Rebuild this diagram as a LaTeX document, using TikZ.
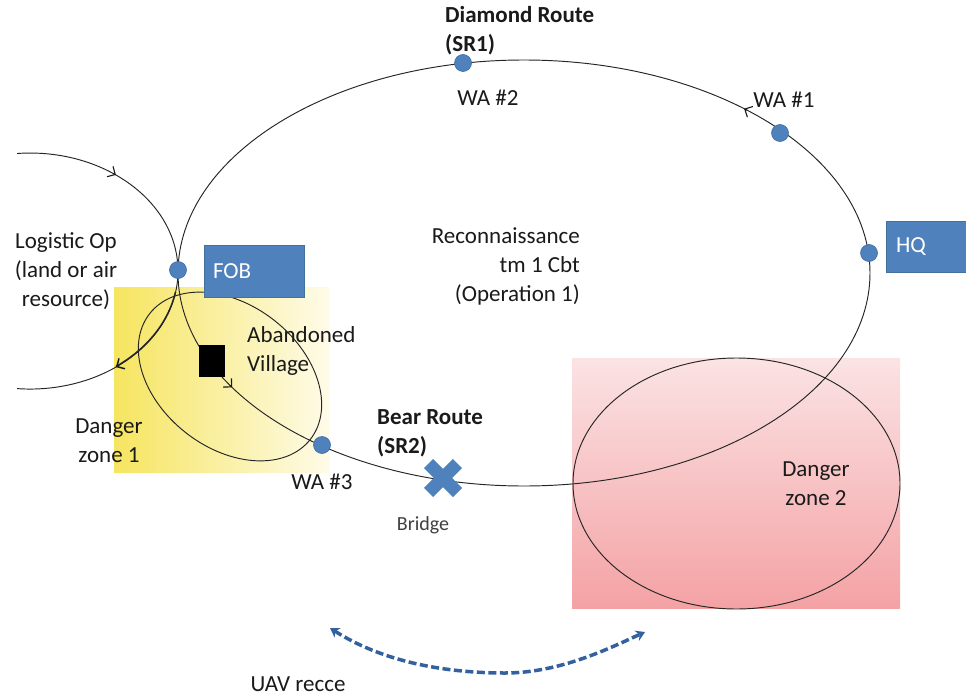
\documentclass[tikz,border=0pt]{standalone}
\usepackage{fontspec}
\setmainfont{Carlito}
\usetikzlibrary{arrows.meta}
\definecolor{boxblue}{HTML}{4F81BD}
\definecolor{boxedge}{HTML}{41719C}
\definecolor{dotedge}{HTML}{3C6DA6}
\definecolor{textblack}{HTML}{1A1A1A}
\definecolor{bridgegray}{HTML}{404040}
\definecolor{yelL}{HTML}{F6E560}
\definecolor{yelR}{HTML}{FEFBE8}
\definecolor{pinkT}{HTML}{FBE3E4}
\definecolor{pinkB}{HTML}{F4A2A4}
\definecolor{uavblue}{HTML}{33609E}
\begin{document}
\begin{tikzpicture}[x=1pt,y=-1pt,
  route/.style={draw=black!85, line width=0.95pt},
  tipmark/.style={draw=black!90, line width=1.1pt, -{Straight Barb[length=6pt,width=12pt]}},
  wpdot/.style={circle, fill=boxblue, draw=dotedge, line width=0.6pt, minimum size=17pt, inner sep=0pt},
  txt/.style={font=\fontsize{23}{29}\selectfont, text=textblack, inner sep=0pt},
  boldtxt/.style={font=\fontsize{23}{29}\selectfont\bfseries, text=textblack, inner sep=0pt},
  bluebox/.style={fill=boxblue, draw=boxedge, line width=0.6pt, inner ysep=0pt, text=white, align=left, font=\fontsize{23}{29}\selectfont},
  uav/.style={draw=uavblue, line width=3.5pt, dash pattern=on 8pt off 3.5pt, {Stealth[length=9pt,width=11pt]}-{Stealth[length=9pt,width=11pt]}}
]
\useasboundingbox (0,0) rectangle (966,698);
\fill[white] (0,0) rectangle (966,698);

% danger zones
\shade[left color=yelL, right color=yelR] (114,287) rectangle (329,472);
\shade[top color=pinkT, bottom color=pinkB] (572,358) rectangle (900,608);
\draw[route, rotate around={-38:(230,376.5)}] (230,376.5) ellipse [x radius=102pt, y radius=71.5pt];
\draw[route] (736.5,483.5) ellipse [x radius=163.5pt, y radius=125.5pt];

% main loop (Diamond / Bear routes)
\draw[route] (524,273) ellipse [x radius=346pt, y radius=213pt];
% logistic op curve
\draw[route] (17.1,153.5) arc[start angle=95, end angle=-95, x radius=148pt, y radius=118pt];
\draw[route, line width=1.5pt] (175.5,292) arc[start angle=-10.5, end angle=-54.5, x radius=148pt, y radius=118pt];

% direction marks
\draw[tipmark] (746.8,110.1) -- (744.1,108.7);
\draw[tipmark] (113.3,173.4) -- (115.9,174.9);
\draw[tipmark, line width=1.5pt] (118.5,365.6) -- (115.9,367.1);

% abandoned village
\fill[black] (199,345) rectangle (225,377);
\draw[tipmark] (230.0,385.3) -- (232.2,387.4);

% boxes
\node[bluebox, text width=82pt, inner xsep=9pt, minimum height=52pt] (fob) at (254,271) {FOB};
\node[bluebox, text width=60pt, inner xsep=10pt, minimum height=51pt] (hq) at (926,247) {HQ};

% waypoints
\node[wpdot] (wa2) at (463,63) {};
\node[wpdot] (wa1) at (780,133) {};
\node[wpdot] (hqdot) at (869,253) {};
\node[wpdot] (fobdot) at (178,270) {};
\node[wpdot] (wa3) at (322,445) {};

% bridge
\fill[boxblue, rotate around={45:(443,478)}] (422.5,471.5) rectangle (463.5,484.5);
\fill[boxblue, rotate around={-45:(443,478)}] (422.5,471.5) rectangle (463.5,484.5);

% labels
\node[boldtxt, anchor=west, align=left] (diamond) at (445,30.5) {Diamond Route\\(SR1)};
\node[txt] (wa2t) at (488,98) {WA \#2};
\node[txt] (wa1t) at (784,100) {WA \#1};
\node[txt, align=center] (logi) at (66,271) {Logistic Op\\(land or air\\resource)};
\node[txt, anchor=east, align=right] (recon) at (580,266) {Reconnaissance\\tm 1 Cbt\\(Operation 1)};
\node[txt, anchor=west, align=left] (village) at (247,351) {Abandoned\\Village};
\node[txt, align=center] (dz1) at (109,441) {Danger\\zone 1};
\node[txt] (wa3t) at (322,482) {WA \#3};
\node[boldtxt, anchor=west, align=left] (bear) at (377,433) {Bear Route\\(SR2)};
\node[font=\fontsize{20}{24}\selectfont, text=bridgegray, inner sep=0pt] (bridget) at (423,525) {Bridge};
\node[txt, align=center] (dz2) at (816,484) {Danger\\zone 2};
\node[txt] (uavt) at (298,684) {UAV recce};

% UAV recce arrow
\coordinate (uavL) at (330,628);
\coordinate (uavR) at (645,632);
\draw[uav] (uavL) .. controls (380,660) and (440,673) .. (505,673) .. controls (560,673) and (610,648) .. (uavR);
\end{tikzpicture}
\end{document}
